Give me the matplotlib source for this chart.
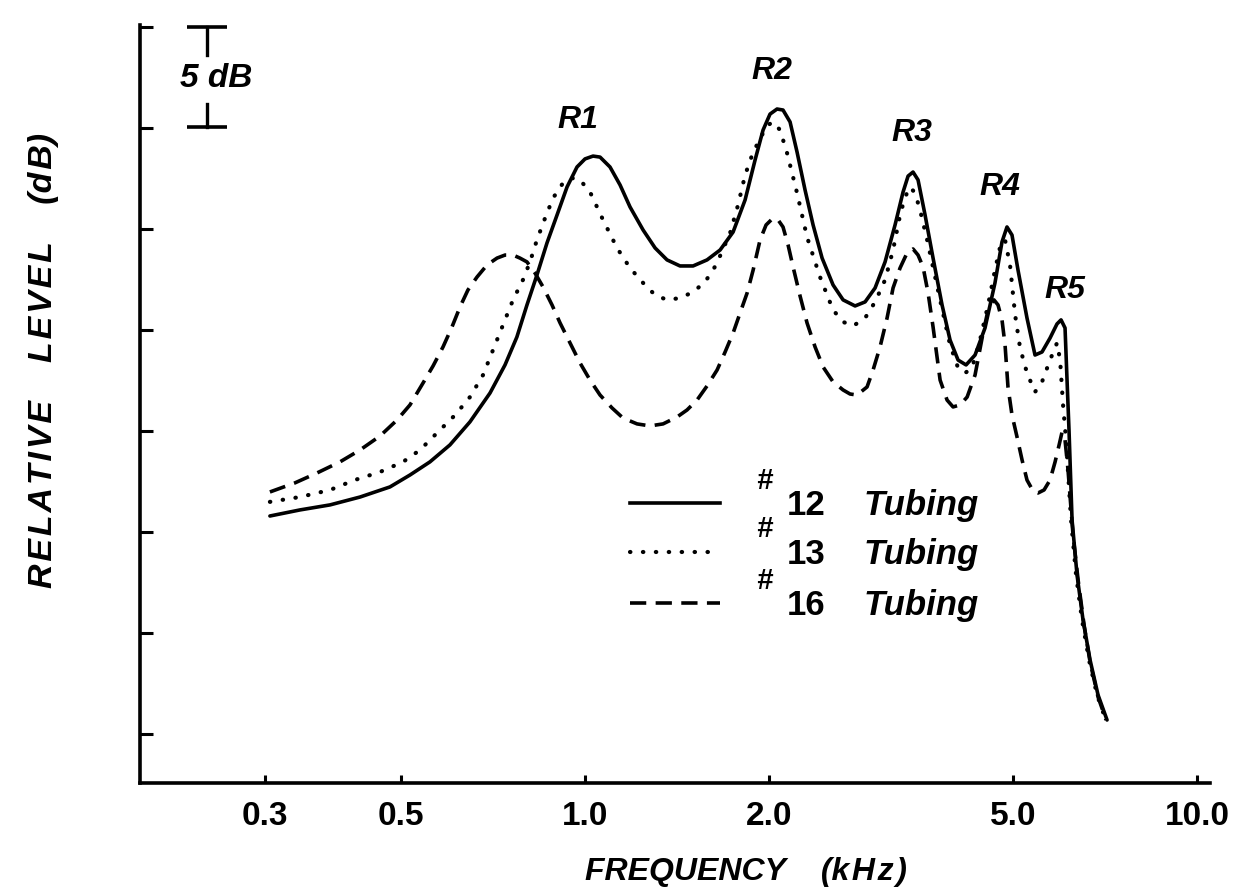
import matplotlib
matplotlib.use('Agg')
import matplotlib.pyplot as plt
from matplotlib.lines import Line2D

plt.rcParams['font.family'] = ['Liberation Sans', 'DejaVu Sans']

# --- data (frequency in kHz, relative level in dB) ---
# #12 tubing (solid)
freq_12 = [0.3056, 0.3421, 0.3832, 0.4290, 0.4801, 0.5176, 0.5580, 0.6016, 0.6486, 0.6995,
           0.7401, 0.7738, 0.8038, 0.8345, 0.8667, 0.9000, 0.9346, 0.9703, 1.0000, 1.0306,
           1.0581, 1.0985, 1.1409, 1.1845, 1.2442, 1.3017, 1.3614, 1.4295, 1.5015, 1.5826,
           1.6622, 1.7455, 1.8261, 1.8961, 1.9538, 2.0057, 2.0592, 2.1061, 2.1627, 2.2203,
           2.2882, 2.3584, 2.4396, 2.5424, 2.6401, 2.7620, 2.8679, 2.9778, 3.0918, 3.2101,
           3.3083, 3.3714, 3.4349, 3.5002, 3.5940, 3.7036, 3.8311, 3.9484, 4.0693, 4.1933,
           4.3373, 4.5030, 4.6749, 4.8001, 4.8910, 4.9842, 5.0980, 5.2736, 5.4350, 5.5800,
           5.7508, 5.9038, 5.9943, 6.0849, 6.1308, 6.1763, 6.2477, 6.3657, 6.5112, 6.6858,
           6.8894, 7.1266]
level_12 = [10.79, 11.09, 11.34, 11.73, 12.23, 12.82, 13.47, 14.31, 15.45, 16.88,
            18.27, 19.65, 21.24, 22.72, 24.31, 25.69, 27.08, 28.07, 28.47, 28.61,
            28.56, 28.07, 27.18, 26.09, 24.95, 24.06, 23.47, 23.17, 23.17, 23.47,
            23.96, 24.85, 26.44, 28.42, 29.90, 30.69, 30.94, 30.89, 30.30, 28.81,
            26.93, 25.20, 23.56, 22.23, 21.49, 21.19, 21.39, 22.08, 23.37, 25.20,
            26.83, 27.62, 27.82, 27.43, 25.69, 23.56, 21.24, 19.50, 18.51, 18.27,
            18.76, 20.10, 22.33, 24.36, 25.10, 24.70, 22.97, 20.59, 18.76, 18.91,
            19.60, 20.30, 20.50, 20.10, 17.52, 15.05, 10.59, 7.87, 5.64, 3.66,
            1.93, 0.69]

# #13 tubing (dotted)
freq_13 = [0.3056, 0.3421, 0.3832, 0.4204, 0.4624, 0.5043, 0.5376, 0.5729, 0.6134, 0.6486,
           0.6813, 0.7074, 0.7345, 0.7627, 0.7917, 0.8130, 0.8345, 0.8604, 0.8866, 0.9206,
           0.9523, 0.9813, 1.0190, 1.0701, 1.1280, 1.1845, 1.2442, 1.3017, 1.3614, 1.4295,
           1.5015, 1.5709, 1.6374, 1.7258, 1.7783, 1.8261, 1.8749, 1.9320, 1.9907, 2.0287,
           2.0826, 2.1384, 2.2203, 2.3053, 2.4210, 2.5424, 2.6401, 2.7416, 2.8679, 2.9778,
           3.0918, 3.1862, 3.2712, 3.3334, 3.3963, 3.4609, 3.5268, 3.6220, 3.8030, 3.9484,
           4.0693, 4.1779, 4.2886, 4.4192, 4.5553, 4.6749, 4.7822, 4.8555, 4.9470, 5.0431,
           5.1380, 5.2736, 5.4350, 5.5800, 5.7508, 5.9038, 5.9730, 6.0395, 6.1081, 6.2240,
           6.3424, 6.4867, 6.6597, 6.8641, 7.0740]
level_13 = [11.49, 11.73, 12.08, 12.57, 12.97, 13.47, 14.06, 14.90, 15.79, 16.68,
            17.77, 19.01, 20.25, 21.49, 22.48, 23.37, 24.46, 25.54, 26.53, 27.28,
            27.52, 27.43, 26.83, 25.45, 24.06, 23.07, 22.33, 21.73, 21.49, 21.58,
            21.88, 22.38, 23.22, 24.80, 26.19, 27.67, 28.66, 29.50, 30.15, 30.30,
            29.90, 28.76, 26.78, 24.60, 22.62, 20.99, 20.40, 20.20, 20.59, 21.39,
            22.48, 23.96, 25.69, 26.58, 27.08, 26.78, 25.94, 24.46, 21.49, 19.26,
            18.12, 17.87, 18.12, 19.50, 21.24, 22.97, 24.31, 24.46, 23.22, 20.74,
            19.11, 17.87, 16.93, 17.43, 18.51, 19.36, 18.51, 16.29, 14.55, 10.59,
            7.87, 5.64, 3.66, 1.93, 0.79]

# #16 tubing (dashed)
freq_16 = [0.3056, 0.3358, 0.3648, 0.3978, 0.4290, 0.4624, 0.4929, 0.5176, 0.5438, 0.5646,
           0.5861, 0.6062, 0.6248, 0.6437, 0.6660, 0.6917, 0.7182, 0.7401, 0.7627, 0.7828,
           0.8038, 0.8284, 0.8539, 0.8832, 0.9103, 0.9451, 0.9813, 1.0190, 1.0581, 1.1069,
           1.1536, 1.2162, 1.2770, 1.3412, 1.4134, 1.4678, 1.5240, 1.5826, 1.6436, 1.6938,
           1.7455, 1.7918, 1.8400, 1.8823, 1.9320, 1.9760, 2.0287, 2.0673, 2.1061, 2.1466,
           2.1874, 2.2457, 2.3053, 2.3761, 2.4487, 2.5424, 2.6401, 2.7102, 2.7826, 2.8893,
           2.9555, 3.0339, 3.1150, 3.1862, 3.2712, 3.3580, 3.4349, 3.5002, 3.5670, 3.6350,
           3.7036, 3.8030, 3.9042, 3.9930, 4.1000, 4.2100, 4.3373, 4.4700, 4.5553, 4.6574,
           4.7287, 4.8001, 4.8555, 4.9094, 4.9842, 5.0797, 5.1770, 5.2736, 5.3951, 5.4977,
           5.6234, 5.7508, 5.8614, 5.9510, 6.0171, 6.0849, 6.1535, 6.2706, 6.3917, 6.5358,
           6.6858, 6.8894, 7.1006]
level_16 = [11.98, 12.43, 12.92, 13.47, 14.06, 14.75, 15.54, 16.29, 17.38, 18.22,
            19.16, 20.15, 21.14, 21.98, 22.62, 23.22, 23.56, 23.71, 23.71, 23.56,
            23.37, 22.82, 22.13, 21.24, 20.35, 19.36, 18.37, 17.52, 16.78, 16.14,
            15.64, 15.35, 15.25, 15.35, 15.69, 16.04, 16.53, 17.23, 18.02, 18.91,
            19.85, 20.84, 21.83, 22.97, 24.46, 25.20, 25.54, 25.45, 25.10, 24.21,
            23.12, 21.68, 20.35, 19.16, 18.17, 17.43, 17.03, 16.83, 16.78, 17.18,
            18.02, 19.16, 20.59, 22.08, 23.07, 23.81, 24.01, 23.71, 23.12, 21.83,
            20.15, 17.52, 16.53, 16.19, 16.29, 16.68, 17.77, 19.85, 20.99, 21.49,
            21.24, 20.50, 19.26, 17.18, 15.79, 14.70, 13.56, 12.57, 12.03, 11.93,
            12.08, 12.57, 13.47, 14.31, 14.95, 14.55, 13.07, 9.85, 7.62, 5.40,
            3.56, 1.83, 0.69]

peak_names = ['R1', 'R2', 'R3', 'R4', 'R5']
peak_label_freq = [0.974, 2.02, 3.42, 4.77, 6.09]
peak_label_level = [30.4, 32.8, 29.75, 27.1, 22.0]

xtick_vals = [0.3, 0.5, 1.0, 2.0, 5.0, 10.0]
xtick_labels = ['0.3', '0.5', '1.0', '2.0', '5.0', '10.0']
ytick_vals = [0, 5, 10, 15, 20, 25, 30, 35]

tube_labels = ['12', '13', '16']

HS = '\u200a'  # hair space for the letter-spaced axis titles

# --- figure ---
fig = plt.figure(figsize=(12.34, 8.96), dpi=100)
ax = fig.add_axes([0.1135, 0.1261, 0.8671, 0.846])

LW = 2.6
DOT = (0, (0.1, 3.0))
DASH = (0, (4.5, 2.6))
ax.plot(freq_12, level_12, color='black', lw=LW, solid_capstyle='round',
        solid_joinstyle='round')
ax.plot(freq_13, level_13, color='black', lw=3.0, linestyle=DOT,
        dash_capstyle='round')
ax.plot(freq_16, level_16, color='black', lw=LW, linestyle=DASH)

ax.set_xscale('log')
ax.set_xlim(0.1875, 10.5)
ax.set_ylim(-2.43, 35.1)

ax.spines['top'].set_visible(False)
ax.spines['right'].set_visible(False)
ax.spines['left'].set_linewidth(2.6)
ax.spines['bottom'].set_linewidth(2.6)

ax.set_xticks(xtick_vals)
ax.set_xticklabels(xtick_labels)
ax.xaxis.set_minor_locator(matplotlib.ticker.NullLocator())
ax.tick_params(axis='x', direction='in', length=6, width=2.2, pad=13,
               labelsize=24)
for lab in ax.get_xticklabels():
    lab.set_fontweight('bold')
ax.set_yticks(ytick_vals)
ax.set_yticklabels([])
ax.tick_params(axis='y', direction='in', length=9, width=2.2)

xlab = 'FREQUENCY    (' + HS.join('kHz') + HS + ')'
ax.set_xlabel(xlab, fontsize=23, fontweight='bold', style='italic')
ax.xaxis.set_label_coords(0.566, -0.097)
ylab = HS.join('RELATIVE') + '    ' + HS.join('LEVEL') + '    (' + HS.join('dB') + ')'
ax.set_ylabel(ylab, fontsize=24.5, fontweight='bold', style='italic')
ax.yaxis.set_label_coords(-0.076, 0.558)

# resonance peak labels
for name, fx, fy in zip(peak_names, peak_label_freq, peak_label_level):
    ax.text(fx, fy, name, ha='center', va='center', fontsize=23,
            fontweight='bold', style='italic')

# 5 dB scale bar
bar_x = 0.241
ax.plot([bar_x, bar_x], [35, 33.6], color='black', lw=2.4)
ax.plot([bar_x, bar_x], [31.2, 30.05], color='black', lw=2.4)
ax.plot([bar_x, bar_x], [35, 30.05], linestyle='none', marker='_',
        markersize=29, markeredgewidth=2.6, color='black')
ax.text(bar_x * 1.035, 32.45, '5 dB', ha='center', va='center', fontsize=24,
        fontweight='bold', style='italic')

# legend drawn by hand
styles = [dict(lw=LW, linestyle='-'),
          dict(lw=3.0, linestyle=DOT, dash_capstyle='round'),
          dict(lw=LW, linestyle=DASH)]
row_y = [0.369, 0.305, 0.237]
for lab, st, yy in zip(tube_labels, styles, row_y):
    ax.add_line(Line2D([0.458, 0.542], [yy, yy], transform=ax.transAxes,
                       color='black', **st))
    ax.text(0.576, yy + 0.030, '#', transform=ax.transAxes, ha='left',
            va='center', fontsize=21, fontweight='bold', style='italic')
    ax.text(0.6047, yy - 0.003, lab, transform=ax.transAxes, ha='left',
            va='center', fontsize=25, fontweight='bold')
    ax.text(0.676, yy - 0.003, 'Tubing', transform=ax.transAxes, ha='left',
            va='center', fontsize=25, fontweight='bold', style='italic')

fig.savefig('out.png', dpi=100)
plt.close(fig)
